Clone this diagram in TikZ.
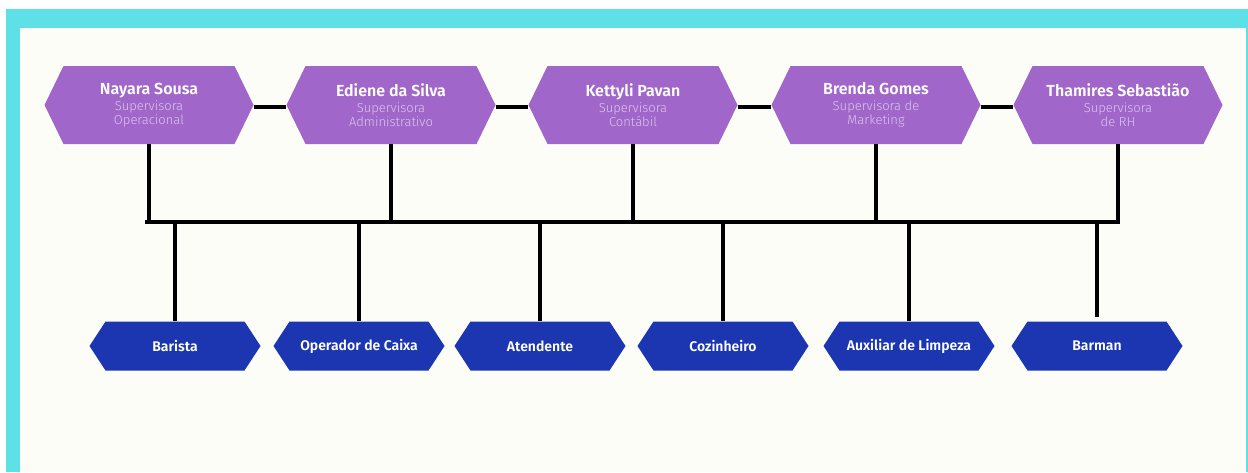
\documentclass[tikz,border=0pt]{standalone}
\usepackage{fontspec}
\setmainfont{Fira Sans}
\newfontfamily\lightfont{Fira Sans Light}
\newfontfamily\semifont{Fira Sans SemiBold}
\definecolor{framec}{HTML}{5DE1E6}
\definecolor{cream}{HTML}{FDFDF8}
\definecolor{purp}{HTML}{A066C9}
\definecolor{subc}{HTML}{DCC6EE}
\definecolor{roleblue}{HTML}{1B36B0}
\tikzset{
  hexfill/.style n args={2}{path picture={\fill[#1]
    (path picture bounding box.west)
    -- ([xshift=#2]path picture bounding box.north west)
    -- ([xshift=-#2]path picture bounding box.north east)
    -- (path picture bounding box.east)
    -- ([xshift=-#2]path picture bounding box.south east)
    -- ([xshift=#2]path picture bounding box.south west) -- cycle;}},
  supbox/.style={minimum width=209pt, minimum height=78pt, inner sep=0pt,
    hexfill={purp}{19pt}, text=white, align=center,
    font=\fontsize{13}{14}\selectfont},
  rolebox/.style={minimum width=171pt, minimum height=49pt, inner sep=0pt,
    hexfill={roleblue}{16pt}, text=white, align=center,
    font=\semifont\fontsize{14}{16}\selectfont},
  link/.style={line width=4pt, black},
}
\newcommand\supname[1]{{\semifont\fontsize{16}{16}\selectfont #1}}
\newcommand\supsub[1]{{\lightfont\color{subc}#1}}
\begin{document}
\begin{tikzpicture}[x=1pt,y=-1pt]
\useasboundingbox (0,0) rectangle (1248,472);
\fill[white] (0,0) rectangle (1248,472);
\fill[framec] (6,9) rectangle (1248,472);
\fill[cream] (20,28) rectangle (1246,472);

% supervisors
\node[supbox] (t1) at (149,105) {\supname{Nayara Sousa}\\[1.5pt]\supsub{Supervisora}\\\supsub{Operacional}};
\node[supbox] (t2) at (391,105) {\supname{Ediene da Silva}\\[1.5pt]\supsub{Supervisora}\\\supsub{Administrativo}};
\node[supbox] (t3) at (633,105) {\supname{Kettyli Pavan}\\[1.5pt]\supsub{Supervisora}\\\supsub{Contábil}};
\node[supbox] (t4) at (876,105) {\supname{Brenda Gomes}\\[1.5pt]\supsub{Supervisora de}\\\supsub{Marketing}};
\node[supbox] (t5) at (1118,105) {\supname{Thamires Sebastião}\\[1.5pt]\supsub{Supervisora}\\\supsub{de RH}};

% roles
\node[rolebox] (b1) at (175,346) {Barista};
\node[rolebox] (b2) at (359,346) {Operador de Caixa};
\node[rolebox] (b3) at (540,346) {Atendente};
\node[rolebox] (b4) at (723,346) {Cozinheiro};
\node[rolebox] (b5) at (909,346) {Auxiliar de Limpeza};
\node[rolebox] (b6) at (1097,346) {Barman};

% bus
\coordinate (busL) at (147,222);
\coordinate (busR) at (1118,222);

% links between supervisors
\draw[link] ([yshift=-2pt]t1.east) -- ([yshift=-2pt]t2.west);
\draw[link] ([yshift=-2pt]t2.east) -- ([yshift=-2pt]t3.west);
\draw[link] ([yshift=-2pt]t3.east) -- ([yshift=-2pt]t4.west);
\draw[link] ([yshift=-2pt]t4.east) -- ([yshift=-2pt]t5.west);

% bus and drops
\draw[link, line cap=rect] (busL) -- (busR);
\foreach \t in {t1,t2,t3,t4,t5}
  \draw[link] (\t.south) -- (\t.south |- busL);
\foreach \b in {b1,b2,b3,b4,b5}
  \draw[link] (\b.north) -- (\b.north |- busL);
\draw[link, shorten <=4pt] (b6.north) -- (b6.north |- busL);
\end{tikzpicture}
\end{document}
